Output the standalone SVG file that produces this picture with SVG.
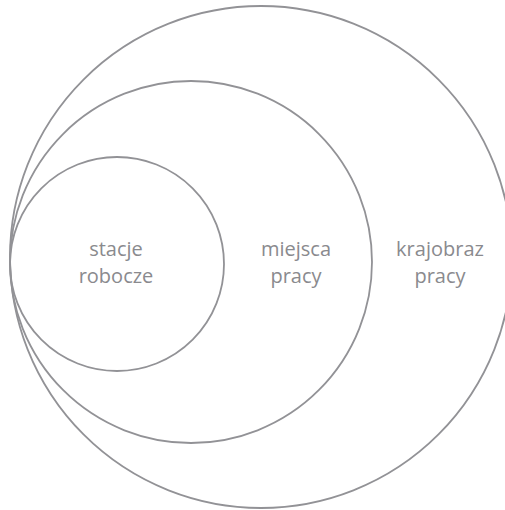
<svg xmlns="http://www.w3.org/2000/svg" width="505" height="510" viewBox="0 0 505 510">
<style>
.c{fill:none;stroke:#929296;stroke-width:1.8}
.t{font-family:"Open Sans","Noto Sans",sans-serif;font-size:20px;fill:#8a8a8e;text-anchor:middle}
</style>
<rect width="505" height="510" fill="#fff"/>
<g id="krajobraz"><circle class="c" cx="261" cy="257" r="251"/>
<text class="t" x="440" y="256">krajobraz</text><text class="t" x="440" y="283">pracy</text></g>
<g id="miejsca"><circle class="c" cx="191" cy="262" r="181"/>
<text class="t" x="296" y="256">miejsca</text><text class="t" x="296" y="283">pracy</text></g>
<g id="stacje"><circle class="c" cx="117" cy="264" r="107"/>
<text class="t" x="116" y="256">stacje</text><text class="t" x="116" y="283">robocze</text></g>
</svg>
